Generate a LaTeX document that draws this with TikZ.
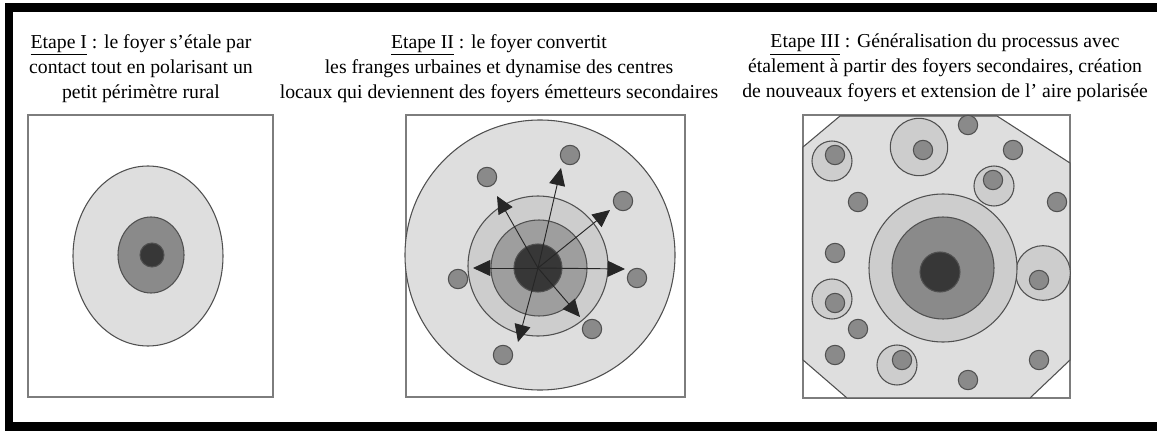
\documentclass[tikz,border=0pt]{standalone}
\usepackage{fontspec}
\setmainfont{Liberation Serif}
\usetikzlibrary{arrows.meta,shapes.geometric}
\definecolor{boxline}{RGB}{125,125,125}
\definecolor{pale}{RGB}{222,222,222}
\definecolor{ringbg}{RGB}{205,205,205}
\definecolor{midgray}{RGB}{138,138,138}
\definecolor{midlight}{RGB}{158,158,158}
\definecolor{coregray}{RGB}{55,55,55}
\definecolor{edge}{RGB}{80,80,80}

\begin{document}
\begin{tikzpicture}[
  x=0.75pt, y=-0.75pt,
  font=\fontsize{14.8}{18.75}\selectfont,
  title/.style={anchor=north, align=center, inner sep=0pt},
  panel/.style={draw=boxline, line width=1.5pt, fill=white},
  zone/.style={draw=edge, line width=0.8pt, inner sep=0pt},
  disc/.style={circle, zone, minimum size=#1},
  oval/.style={ellipse, zone},
  dot/.style={disc=14.5pt, fill=midgray},
  halo/.style={disc=#1, fill=ringbg},
  arr/.style={-{Triangle[length=13pt, width=12pt]}, line width=0.7pt, black!85}
]
\useasboundingbox (0,0) rectangle (1157,432);
\draw[line width=6.4pt] (1157,7.5) -- (9,7.5) -- (9,426.5) -- (1157,426.5);

\node[title] (t1) at (141,34) {\underline{Etape I} : le foyer s'étale par\\contact tout en polarisant un\\petit périmètre rural};
\node[title] (t2) at (499,34) {\underline{Etape II} : le foyer convertit\\les franges urbaines et dynamise des centres\\locaux qui deviennent des foyers émetteurs secondaires};
\node[title] (t3) at (945,34) {\underline{Etape III} : Généralisation du processus avec\\étalement à partir des foyers secondaires, création\\de nouveaux foyers et extension de l' aire polarisée};

\draw[panel] (28,115) rectangle (273,397);
\draw[panel] (406,115) rectangle (685,397);
\draw[panel] (803,115) rectangle (1070,398);

\node[oval, fill=pale, minimum width=112.5pt, minimum height=135pt] (zone1) at (148,256) {};
\node[oval, fill=midgray, minimum width=49.5pt, minimum height=57pt] (ring1) at (151,255) {};
\node[disc=18pt, fill=coregray] (core1) at (152,255) {};

\node[disc=202.5pt, fill=pale] (zone2) at (540,255) {};
\node[disc=105pt, fill=ringbg] (ring2) at (538,266) {};
\node[disc=72pt, fill=midlight] (mid2) at (539,268) {};
\node[disc=36pt, fill=coregray] (core2) at (538,268) {};
\foreach \x/\y [count=\i] in {487/177,570/155,623/201,637/278,592/329,503/355,458/279}
  \node[dot] (sat\i) at (\x,\y) {};
\foreach \x/\y [count=\i] in {497/196,561/168,610/210,625/269,580/317,518/342,473/268}
  \coordinate (tip\i) at (\x,\y);
\foreach \i in {1,...,7}
  \draw[arr] (core2.center) -- (tip\i);

\draw[zone, fill=pale] (840,116) -- (997,116) -- (1070,163) -- (1070,360) -- (1030,398) -- (847,398) -- (803,360) -- (803,147) -- cycle;
\node[halo=30pt] (h1) at (832,161) {};
\node[halo=43pt] (h2) at (919,147) {};
\node[halo=30pt] (h3) at (994,186) {};
\node[halo=41pt] (h4) at (1043,273) {};
\node[halo=30pt] (h5) at (832,299) {};
\node[halo=30pt] (h6) at (897,365) {};
\node[disc=111pt, fill=ringbg] (ring3) at (943,268) {};
\node[disc=76.5pt, fill=midgray] (mid3) at (943,268) {};
\node[disc=30pt, fill=coregray] (core3) at (940,272) {};
\foreach \x/\y [count=\i] in {835/155,923/150,993/180,1039/280,835/303,902/360,968/125,1013/150,1057/202,858/202,835/253,858/329,835/355,968/380,1039/360}
  \node[dot] (f\i) at (\x,\y) {};
\end{tikzpicture}
\end{document}
